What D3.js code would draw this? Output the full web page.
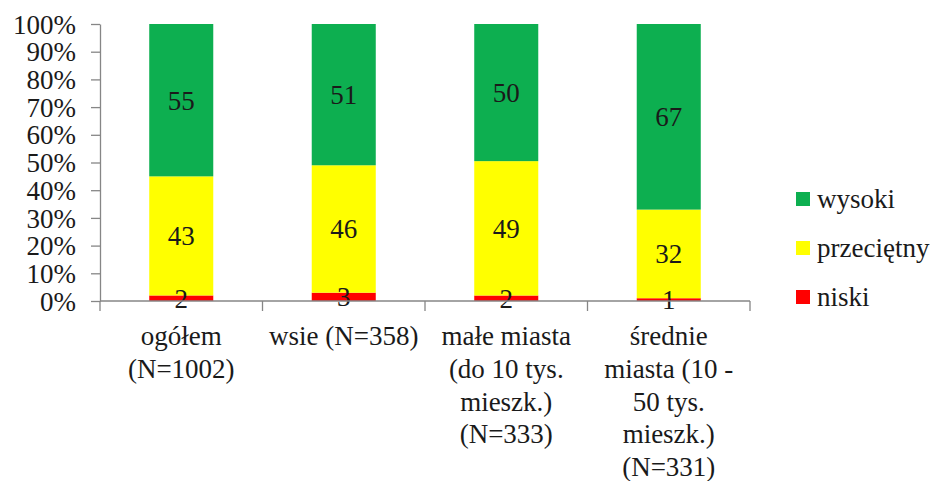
<!DOCTYPE html>
<html>
<head>
<meta charset="utf-8">
<script src="https://cdn.jsdelivr.net/npm/d3@7"></script>
<style>
  html, body { margin: 0; padding: 0; background: #fff; }
  svg { display: block; }
  svg text { font-family: "Liberation Serif", "Times New Roman", Times, "Nimbus Roman", "Tinos", "DejaVu Serif", serif !important; fill: #1a1a1a; }
</style>
</head>
<body>
<svg id="chart" width="938" height="481"></svg>
<script>
// ---- data ----
const categories = [
  "ogółem (N=1002)",
  "wsie (N=358)",
  "małe miasta (do 10 tys. mieszk.) (N=333)",
  "średnie miasta (10 - 50 tys. mieszk.) (N=331)"
];
const categoryLines = [
  ["ogółem", "(N=1002)"],
  ["wsie (N=358)"],
  ["małe miasta", "(do 10 tys.", "mieszk.)", "(N=333)"],
  ["średnie", "miasta (10 -", "50 tys.", "mieszk.)", "(N=331)"]
];
const seriesNames = ["niski", "przeciętny", "wysoki"];
const niski = [2, 3, 2, 1];
const przecietny = [43, 46, 49, 32];
const wysoki = [55, 51, 50, 67];
const seriesColors = ["#ff0000", "#ffff00", "#0daf50"];
const yTicks = [0, 0.1, 0.2, 0.3, 0.4, 0.5, 0.6, 0.7, 0.8, 0.9, 1.0];

// ---- build table ----
const table = categories.map((c, i) => ({
  cat: c, niski: niski[i], "przeciętny": przecietny[i], wysoki: wysoki[i]
}));

const svg = d3.select("#chart");
const mLeft = 100, mRight = 750, mTop = 24, mBottom = 301;
const fs = 27;
const fontStack = "'Liberation Serif', 'Times New Roman', Times, serif";
const axisColor = "#868686";

const x = d3.scaleBand().domain(categories).range([mLeft, mRight])
  .paddingInner(0.606).paddingOuter(0.303);
const y = d3.scaleLinear().domain([0, 1]).range([mBottom, mTop]);
const color = d3.scaleOrdinal().domain(seriesNames).range(seriesColors);

const stack = d3.stack().keys(seriesNames).offset(d3.stackOffsetExpand);
const layers = stack(table);

// bars
const g = svg.append("g");
layers.forEach(layer => {
  g.selectAll(null).data(layer).enter().append("rect")
    .attr("x", d => x(d.data.cat))
    .attr("width", x.bandwidth())
    .attr("y", d => y(d[1]))
    .attr("height", d => y(d[0]) - y(d[1]))
    .attr("fill", color(layer.key));
});

// y axis
const yAxis = d3.axisLeft(y).tickValues(yTicks)
  .tickFormat(d => Math.round(d * 100) + "%")
  .tickSize(9).tickPadding(15).tickSizeOuter(0);
const ya = svg.append("g").attr("transform", `translate(${mLeft},0)`).call(yAxis);
ya.attr("font-family", fontStack);
ya.select(".domain").attr("stroke", axisColor).attr("stroke-width", 1.3);
ya.selectAll(".tick line").attr("stroke", axisColor).attr("stroke-width", 1.3);
ya.selectAll(".tick text").attr("font-size", fs)
  .attr("fill", "#1a1a1a").attr("dy", "0.34em");

// x axis line and ticks at category boundaries
const xa = svg.append("g");
xa.append("line").attr("x1", mLeft).attr("x2", mRight).attr("y1", mBottom).attr("y2", mBottom)
  .attr("stroke", axisColor).attr("stroke-width", 1.3);
const step = x.step();
const boundaries = d3.range(categories.length + 1).map(i => x(categories[0]) - x.paddingOuter() * step + i * step);
xa.selectAll(null).data(boundaries).enter().append("line")
  .attr("x1", d => d).attr("x2", d => d).attr("y1", mBottom).attr("y2", mBottom + 10)
  .attr("stroke", axisColor).attr("stroke-width", 1.3);

// category labels
categories.forEach((c, i) => {
  const cx = x(c) + x.bandwidth() / 2;
  const t = svg.append("text").attr("x", cx).attr("y", 336).attr("text-anchor", "middle")
    .attr("font-size", fs);
  categoryLines[i].forEach((ln, j) => {
    t.append("tspan").attr("x", cx).attr("y", 336 + j * 32.8).attr("dy", "0.33em").text(ln);
  });
});

// value labels
layers.forEach(layer => {
  g.selectAll(null).data(layer).enter().append("text")
    .attr("x", d => x(d.data.cat) + x.bandwidth() / 2)
    .attr("y", d => (y(d[0]) + y(d[1])) / 2)
    .attr("dy", "0.35em")
    .attr("text-anchor", "middle")
    .attr("font-size", fs)
    .text(d => d.data[layer.key]);
});

// legend
const legendItems = seriesNames.slice().reverse();
const lg = svg.append("g");
legendItems.forEach((s, i) => {
  const cy = 199 + i * 49;
  lg.append("rect").attr("x", 796).attr("y", cy - 7).attr("width", 14).attr("height", 14)
    .attr("fill", color(s));
  lg.append("text").attr("x", 817).attr("y", cy).attr("dy", "0.33em")
    .attr("font-size", fs).text(s);
});
</script>
</body>
</html>
